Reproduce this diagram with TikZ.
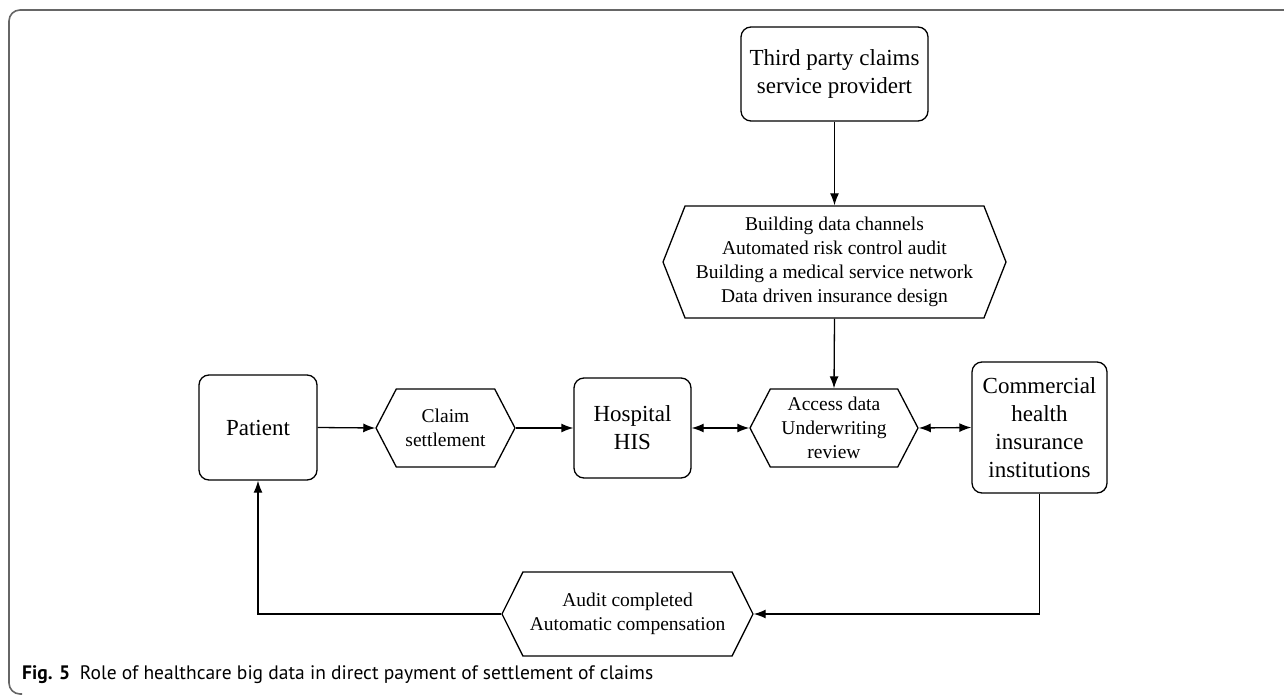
\documentclass[tikz,border=0pt]{standalone}
\usepackage{fontspec}
\setmainfont{Liberation Serif}
\newfontfamily\capfont{PT Sans}
\usepackage{tikz}
\usetikzlibrary{arrows.meta,shapes.symbols}

\tikzset{
	box/.style={draw, rounded corners=10pt, line width=1.3pt, align=center, inner sep=2pt,
		font=\fontsize{23}{28}\selectfont},
	hexa/.style={draw, signal, signal to=west and east, line width=1.3pt, align=center,
		inner sep=2pt, signal pointer angle=125, font=\fontsize{19.5}{24}\selectfont},
	link/.style={line width=1.3pt, -{Latex[length=12pt,width=9pt]}},
	both/.style={line width=1.3pt, {Latex[length=12pt,width=9pt]}-{Latex[length=12pt,width=9pt]}}
}

\begin{document}
\begin{tikzpicture}[x=1pt,y=-1pt]
	\useasboundingbox (0,0) rectangle (1284,695);
	% frame and caption
	\draw[line width=1.6pt, black!60, rounded corners=11pt] (1284,10) -- (9,10) -- (9,694) -- (22,694);
	\node[anchor=base west, inner sep=0pt, font=\capfont\fontsize{19.5}{22}\selectfont] (caption) at (22,679)
		{\textbf{Fig. 5}\hspace{0.5em}Role of healthcare big data in direct payment of settlement of claims};
	
	% boxes
	\node[box, minimum width=187pt, minimum height=94pt] (third) at (834.5,74)
		{Third party claims\\service providert};
	\node[box, minimum width=118pt, minimum height=105pt] (patient) at (258,427.5) {Patient};
	\node[box, minimum width=117pt, minimum height=100pt] (hospital) at (632.5,428) {Hospital\\HIS};
	\node[box, minimum width=135pt, minimum height=131pt] (insur) at (1039.5,427.5)
		{Commercial\\health\\insurance\\institutions};
	
	% hexagons
	\node[hexa, minimum width=343pt, minimum height=112pt, signal pointer angle=137] (build) at (834.5,262)
		{Building data channels\\Automated risk control audit\\Building a medical service network\\Data driven insurance design};
	\node[hexa, minimum width=139pt, minimum height=78pt] (claim) at (445.5,428) {Claim\\settlement};
	\node[hexa, minimum width=168pt, minimum height=78pt] (access) at (834,428)
		{Access data\\Underwriting\\review};
	\node[hexa, minimum width=251pt, minimum height=84pt, signal pointer angle=127] (audit) at (627.5,614)
		{Audit completed\\Automatic compensation};
	
	% connectors
	\foreach \a/\b in {third.south/build.north, build.south/access.north, patient.east/claim.west, claim.east/hospital.west}{
		\draw[link] (\a) -- (\b);
	}
	\foreach \a/\b in {hospital.east/access.west, access.east/insur.west}{
		\draw[both] (\a) -- (\b);
	}
	\draw[link] (insur.south) |- (audit.east);
	\draw[link] (audit.west) -| (patient.south);
\end{tikzpicture}
\end{document}
